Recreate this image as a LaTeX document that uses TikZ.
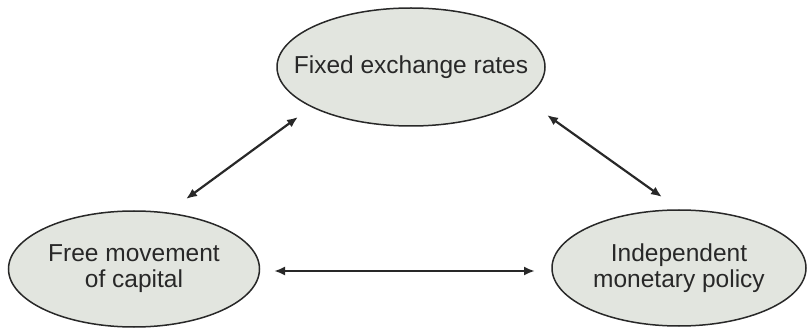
\documentclass[tikz,border=0pt]{standalone}
\usepackage{fontspec}
\setsansfont{Liberation Sans}
\usetikzlibrary{shapes.geometric,arrows.meta}
\definecolor{bubble}{RGB}{226,229,223}
\definecolor{ink}{RGB}{40,40,40}
\tikzset{
  aim/.style={ellipse,draw=ink,line width=1.5pt,fill=bubble,inner sep=0pt,
    minimum width=254pt,minimum height=116pt},
  aimtext/.style={align=center,text=ink,inner sep=0pt,
    font=\sffamily\fontsize{24.5}{26}\selectfont},
  link/.style={{Latex[length=11pt,width=9pt]}-{Latex[length=11pt,width=9pt]},
    line width=2.2pt,draw=ink}
}
\begin{document}
\begin{tikzpicture}[x=1pt,y=1pt]
    \useasboundingbox (0,0) rectangle (809,335);
    % the three aims
    \node[aim,minimum width=268pt,minimum height=118pt,
      label={[aimtext]center:Fixed exchange rates}] (fixed) at (411,268) {};
    \node[aim,minimum width=251pt,
      label={[aimtext]center:Free movement\\of capital}] (capital) at (134,66) {};
    \node[aim,label={[aimtext]center:Independent\\monetary policy}] (policy) at (679,67) {};
    % pairwise links
    \draw[link] ([shift={(52,70)}]capital.center) -- ([shift={(-113,-50)}]fixed.center);
    \draw[link] ([shift={(136,-48)}]fixed.center) -- ([shift={(-17,71)}]policy.center);
    \draw[link] ([shift={(140,-2)}]capital.center) -- ([shift={(-144,-3)}]policy.center);
\end{tikzpicture}
\end{document}
